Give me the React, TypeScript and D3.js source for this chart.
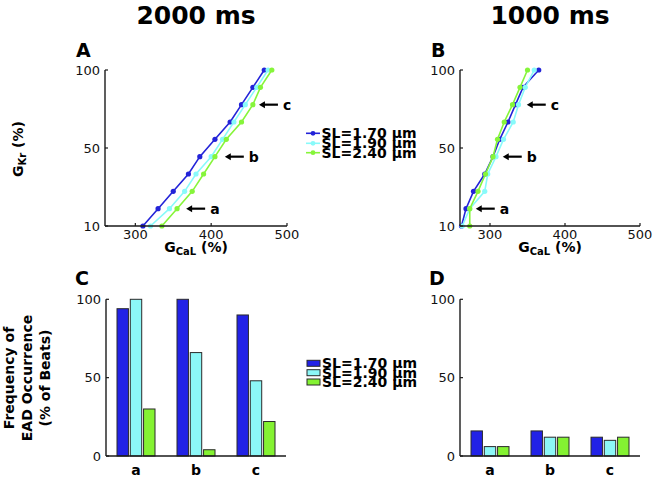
import React from 'react';
import * as d3 from 'd3';

// ---------- data ----------
const seriesNames = ['SL=1.70 μm', 'SL=1.90 μm', 'SL=2.40 μm'];
const lineColors = ['#2323d8', '#88fafa', '#86f53a'];
const barColors = ['#2222e6', '#8cf7f7', '#84f232'];

const gkrLevels = [10, 20, 30, 40, 50, 60, 70, 80, 90, 100];
const yTickLabels = ['10', '50', '100'];
const yTickIndex = [0, 4.5, 9];
const gcalTicks = [300, 400, 500];

// Panel A (2000 ms) GCaL thresholds per GKr level
const gcalA170 = [310, 330, 350, 370, 385, 405, 425, 440, 455, 470];
const gcalA190 = [320, 345, 365, 380, 400, 415, 430, 445, 460, 475];
const gcalA240 = [335, 355, 375, 390, 405, 420, 440, 455, 465, 480];
// Panel B (1000 ms)
const gcalB170 = [262, 268, 278, 293, 304, 313, 324, 334, 344, 365];
const gcalB190 = [263, 273, 293, 297, 308, 318, 331, 338, 347, 359];
const gcalB240 = [273, 273, 284, 294, 304, 310, 319, 330, 340, 350];

// arrows: label, GKr level index, tip GCaL value
const arrowLabels = ['a', 'b', 'c'];
const arrowLevelIdx = [1, 4, 7];
const arrowTipA = [367, 418, 463];
const arrowTipB = [281, 317, 349];

const categories = ['a', 'b', 'c'];
const eadC170 = [94, 100, 90];
const eadC190 = [100, 66, 48];
const eadC240 = [30, 4, 22];
const eadD170 = [16, 16, 12];
const eadD190 = [6, 12, 10];
const eadD240 = [6, 12, 12];
const freqTicks = [0, 50, 100];

const FONT = 'DejaVu Sans';
const AX = '#1a1a1a';

type LinePanelProps = {
  x0: number; x1: number; series: number[][]; tips: number[]; letter: string; title: string; showYLabel: boolean;
};

function LinePanel({ x0, x1, series, tips, letter, title, showYLabel }: LinePanelProps) {
  const y0 = 226, y1 = 70;
  const x = d3.scaleLinear().domain([260, 500]).range([x0, x1]);
  const y = d3.scaleLinear().domain([0, gkrLevels.length - 1]).range([y0, y1]);
  const line = d3.line<number>().x((d) => x(d)).y((_, i) => y(i));
  const cx = (x0 + x1) / 2;
  return (
    <g>
      <text x={cx} y={24} textAnchor="middle" fontFamily={FONT} fontWeight="bold" fontSize={25}>{title}</text>
      <text x={x0 - 29} y={57} fontFamily={FONT} fontWeight="bold" fontSize={19}>{letter}</text>
      {series.map((s, k) => (
        <g key={k}>
          <path d={line(s) || ''} fill="none" stroke={lineColors[k]} strokeWidth={1.6} />
          {s.map((v, i) => (
            <circle key={i} cx={x(v)} cy={y(i)} r={2.6} fill={lineColors[k]} />
          ))}
        </g>
      ))}
      <line x1={x0} x2={x0} y1={y1} y2={y0} stroke={AX} strokeWidth={1.4} />
      <line x1={x0} x2={x1} y1={y0} y2={y0} stroke={AX} strokeWidth={1.4} />
      {yTickIndex.map((t, i) => (
        <g key={i}>
          <line x1={x0} x2={x0 + 3} y1={y(t)} y2={y(t)} stroke={AX} strokeWidth={1.2} />
          <text x={x0 - 5} y={y(t) + 4.6} textAnchor="end" fontFamily={FONT} fontSize={13} fill="#111">{yTickLabels[i]}</text>
        </g>
      ))}
      {gcalTicks.map((t) => (
        <g key={t}>
          <line x1={x(t)} x2={x(t)} y1={y0} y2={y0 - 3} stroke={AX} strokeWidth={1.2} />
          <text x={x(t)} y={239} textAnchor="middle" fontFamily={FONT} fontSize={13} fill="#111">{t}</text>
        </g>
      ))}
      <text x={cx} y={252} textAnchor="middle" fontFamily={FONT} fontWeight="bold" fontSize={14}>
        G<tspan fontSize={10} dy={3}>CaL</tspan><tspan dy={-3}> (%)</tspan>
      </text>
      {arrowLabels.map((lab, i) => {
        const tx = x(tips[i]);
        const ty = y(arrowLevelIdx[i]);
        return (
          <g key={lab}>
            <line x1={tx + 4} x2={tx + 19} y1={ty} y2={ty} stroke="#000" strokeWidth={2.2} />
            <path d={`M${tx},${ty} L${tx + 6},${ty - 3.5} L${tx + 6},${ty + 3.5} Z`} fill="#000" />
            <text x={tx + 24} y={ty + 5} fontFamily={FONT} fontWeight="bold" fontSize={14}>{lab}</text>
          </g>
        );
      })}
      {showYLabel && (
        <text transform={`translate(23,149) rotate(-90)`} textAnchor="middle" fontFamily={FONT} fontWeight="bold" fontSize={14}>
          G<tspan fontSize={10} dy={3}>Kr</tspan><tspan dy={-3}> (%)</tspan>
        </text>
      )}
    </g>
  );
}

type BarPanelProps = { x0: number; x1: number; series: number[][]; letter: string; showYLabel: boolean };

function BarPanel({ x0, x1, series, letter, showYLabel }: BarPanelProps) {
  const y0 = 456, y1 = 299.3;
  const x = d3.scaleBand().domain(categories).range([x0, x1]).padding(0);
  const inner = d3.scaleBand().domain(seriesNames).range([-19, 19]).paddingInner(0.14);
  const y = d3.scaleLinear().domain([0, 100]).range([y0, y1]);
  return (
    <g>
      <text x={x0 - 31} y={285} fontFamily={FONT} fontWeight="bold" fontSize={19}>{letter}</text>
      {categories.map((c, ci) => (
        <g key={c}>
          {series.map((s, k) => {
            const bx = (x(c) || 0) + x.bandwidth() / 2 + (inner(seriesNames[k]) || 0);
            return (
              <rect key={k} x={bx} y={y(s[ci])} width={inner.bandwidth()} height={y0 - y(s[ci])}
                fill={barColors[k]} stroke="#2a2a2a" strokeWidth={1} />
            );
          })}
          <text x={(x(c) || 0) + x.bandwidth() / 2} y={475} textAnchor="middle" fontFamily={FONT} fontWeight="bold" fontSize={14}>{c}</text>
        </g>
      ))}
      <line x1={x0} x2={x0} y1={y1} y2={y0} stroke={AX} strokeWidth={1.4} />
      <line x1={x0} x2={x1} y1={y0} y2={y0} stroke={AX} strokeWidth={1.4} />
      {freqTicks.map((t) => (
        <g key={t}>
          <line x1={x0} x2={x0 + 3} y1={y(t)} y2={y(t)} stroke={AX} strokeWidth={1.2} />
          <text x={x0 - 5} y={y(t) + 4.6} textAnchor="end" fontFamily={FONT} fontSize={13} fill="#111">{t}</text>
        </g>
      ))}
      {showYLabel && (
        <text transform={`translate(32,378) rotate(-90)`} textAnchor="middle" fontFamily={FONT} fontWeight="bold" fontSize={14}>
          <tspan x={0} dy={-18}>Frequency of</tspan>
          <tspan x={0} dy={18}>EAD Occurrence</tspan>
          <tspan x={0} dy={18}>(% of Beats)</tspan>
        </text>
      )}
    </g>
  );
}

function LineLegend({ x, yc }: { x: number; yc: number[] }) {
  return (
    <g>
      {seriesNames.map((n, k) => (
        <g key={n}>
          <line x1={x} x2={x + 14} y1={yc[k]} y2={yc[k]} stroke={lineColors[k]} strokeWidth={1.6} />
          <circle cx={x + 7} cy={yc[k]} r={2.4} fill={lineColors[k]} />
          <text x={x + 15.5} y={yc[k] + 5} fontFamily={FONT} fontWeight="bold" fontSize={14}>{n}</text>
        </g>
      ))}
    </g>
  );
}

function BarLegend({ x, yc }: { x: number; yc: number[] }) {
  return (
    <g>
      {seriesNames.map((n, k) => (
        <g key={n}>
          <rect x={x} y={yc[k] - 3} width={13} height={6} fill={barColors[k]} stroke="#2a2a2a" strokeWidth={1} />
          <text x={x + 15} y={yc[k] + 5} fontFamily={FONT} fontWeight="bold" fontSize={14}>{n}</text>
        </g>
      ))}
    </g>
  );
}

export default function App() {
  return (
    <svg width={655} height={478} style={{ position: 'absolute', left: 0, top: 0, background: '#fff' }}>
      <rect width={655} height={478} fill="#fff" />
      <LinePanel x0={105} x1={287} series={[gcalA170, gcalA190, gcalA240]} tips={arrowTipA} letter="A" title="2000 ms" showYLabel />
      <LinePanel x0={460} x1={640} series={[gcalB170, gcalB190, gcalB240]} tips={arrowTipB} letter="B" title="1000 ms" showYLabel={false} />
      <LineLegend x={306} yc={[133.3, 143.3, 152.7]} />
      <BarPanel x0={106} x1={286} series={[eadC170, eadC190, eadC240]} letter="C" showYLabel />
      <BarPanel x0={460} x1={640} series={[eadD170, eadD190, eadD240]} letter="D" showYLabel={false} />
      <BarLegend x={307} yc={[363.3, 372.7, 382]} />
    </svg>
  );
}
